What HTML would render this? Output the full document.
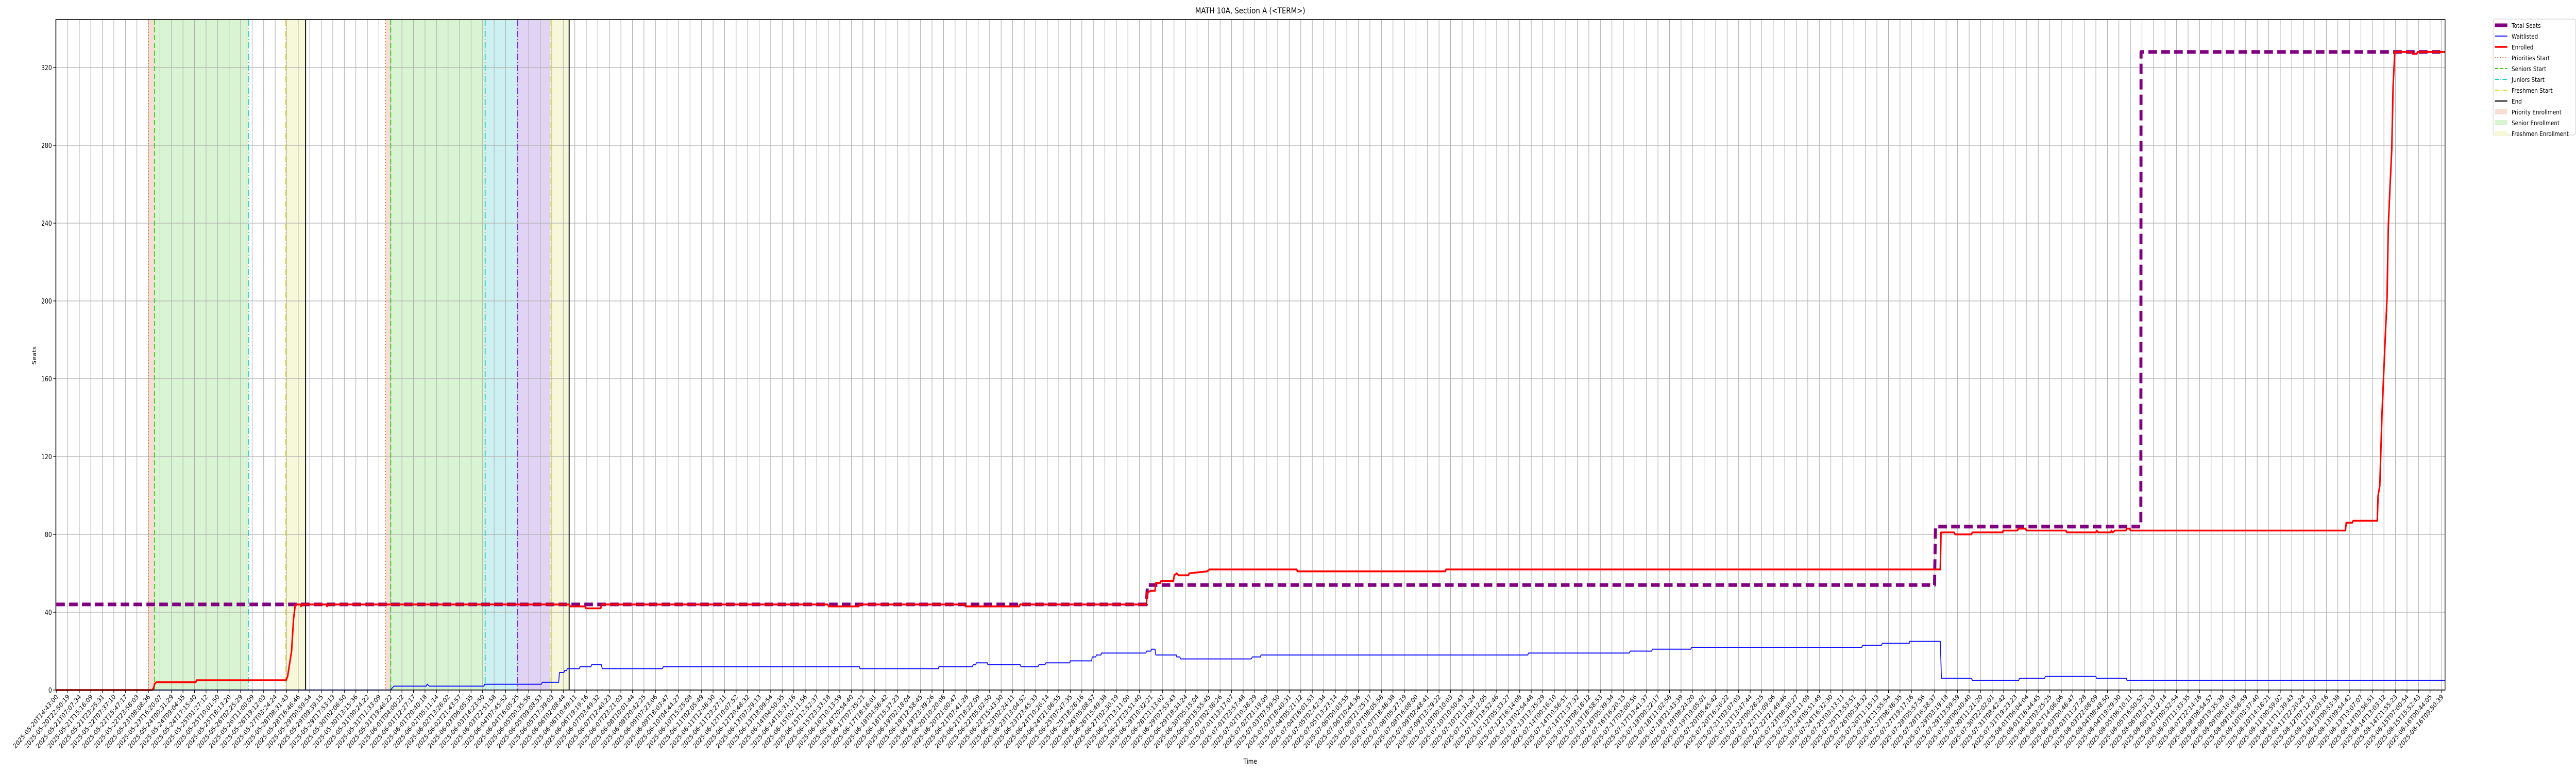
<!DOCTYPE html>
<html><head><meta charset="utf-8"><style>
html,body{margin:0;padding:0;background:#fff;overflow:hidden;}
svg{display:block;width:100vw;height:100vh;font-family:"DejaVu Sans","Liberation Sans",sans-serif;overflow:hidden;}
</style></head><body>
<svg id="chart" xmlns="http://www.w3.org/2000/svg" viewBox="0 0 6000 1500" preserveAspectRatio="none">
<rect x="0" y="0" width="6000" height="1500" fill="#fff"/>
<g id="bands"></g>
<g id="grid"></g>
<g id="vlines"></g>
<g id="series"></g>
<rect x="130" y="38" width="5565" height="1301" fill="none" stroke="#000" stroke-width="1.6"/>
<g id="axes"></g>
<text x="2912" y="26" font-size="16" text-anchor="middle">MATH 10A, Section A (&lt;TERM&gt;)</text>
<text x="2912" y="1482" font-size="13" text-anchor="middle">Time</text>
<text transform="translate(84,690) rotate(-90)" font-size="13" text-anchor="middle">Seats</text>
<g id="legend"></g>
</svg>
<script>
// ---- data ----
const totalX = [0, 94.60, 94.70, 163.00, 163.08, 180.90, 180.92, 207.3];
const totalY = [44, 44, 54, 54, 84, 84, 328, 328];

const waitX = [0,29.0,29.3,32.1,32.19,32.38,37.1,37.18,42.1,42.18,43.6,43.67,44.05,44.11,44.3,44.34,45.4,45.45,46.4,46.46,47.3,47.39,52.6,52.68,69.7,69.75,76.55,76.6,79.5,79.58,79.8,79.84,80.8,80.85,83.65,83.72,85.2,85.28,85.8,85.88,87.95,88.0,89.85,89.9,90.2,90.28,90.65,90.72,94.55,94.63,95.0,95.04,95.35,95.42,97.2,97.24,97.5,97.58,103.7,103.8,104.5,104.55,127.7,127.76,136.5,136.59,138.45,138.52,141.85,141.92,156.7,156.74,158.4,158.46,160.8,160.84,163.5,163.6,166.2,166.28,170.3,170.38,172.55,172.62,177.0,177.05,179.65,179.7,207.3];
const waitY = [0,0,2,2,3,2,2,3,3,4,4,9,9,10,10,11,11,12,12,13,13,11,11,12,12,11,11,12,12,13,13,14,14,13,13,12,12,13,13,14,14,15,15,17,17,18,18,19,19,20,20,21,21,18,18,17,17,16,16,17,17,18,18,19,19,20,20,21,21,22,22,23,23,24,24,25,25,6,6,5,5,6,6,7,7,6,6,5,5];

const enrX = [0,8.33,8.45,8.53,8.68,12.1,12.18,19.93,20.08,20.42,20.60,20.75,21.2,21.24,21.39,23.44,23.5,23.62,44.5,44.6,45.9,45.98,47.25,47.32,66.95,67.03,69.65,69.71,78.85,78.91,83.58,83.64,94.60,94.67,94.97,95.35,95.42,95.8,95.87,96.95,97.02,97.24,97.39,98.25,98.32,99.89,100.07,107.65,107.71,120.55,120.60,163.50,163.56,164.7,164.79,166.2,166.28,168.9,168.96,170.2,170.27,170.9,170.97,174.4,174.48,177.0,177.08,177.2,178.3,178.35,178.45,178.65,179.6,179.70,179.95,180.0,198.65,198.73,199.25,199.33,201.42,201.49,201.64,201.83,202.09,202.27,202.38,202.53,202.68,202.79,202.94,204.43,204.5,204.85,204.92,207.3];
const enrY = [0,0,1,3,4,4,5,5,7,20,37,44,44,43,44,44,43,44,44,43,43,42,42,44,44,43,43,44,44,43,43,44,44,50,51,51,55,55,56,56,59,60,59,59,60,61,62,62,61,61,62,62,81,81,80,80,81,81,82,82,83,83,82,82,81,81,82,81,81,82,81,82,82,83,83,82,82,86,86,87,87,100,105,142,178,202,239,259,278,310,328,328,327,327,328,328];

const markerNames = ["priorities-start-1","seniors-start-1","juniors-start-1","freshmen-start-1","end-1","priorities-start-2","seniors-start-2","juniors-start-2","sophomores-start-2","freshmen-start-2","end-2"];
const markerPos = [8.00, 8.52, 16.67, 19.91, 21.64, 28.57, 29.03, 37.22, 40.04, 42.86, 44.51];
const markerKind = ["pri","sen","jun","fre","end","pri","sen","jun","sop","fre","end"];
const bandStart = [8.00, 8.52, 19.91, 28.57, 29.03, 37.22, 40.04, 42.86];
const bandEnd   = [8.52, 16.67, 21.64, 29.03, 37.22, 40.04, 42.86, 44.51];
const bandKind  = ["pri","sen","fre","pri","sen","jun","sop","fre"];

const yTicks = [0,40,80,120,160,200,240,280,320];
const tickCount = 208;
const knownTickIdx = [0,1,2,3,4,5,6,7,8,9,10,11,12,13,14,15,16,17,18,19,20,21,22,23,24,25,28,29,30,31,32,33,34,35,36,37,38,39,40,41,42,43,44,45,46,47,48,195,196,197,198,199,200,201,202,203,204,205,206,207];
const knownTickLabels = ["2025-05-20T14:43:00","2025-05-20T22:50:19","2025-05-21T07:07:34","2025-05-21T15:16:09","2025-05-21T23:25:31","2025-05-22T07:37:10","2025-05-22T15:47:17","2025-05-22T23:58:03","2025-05-23T08:08:36","2025-05-23T16:20:07","2025-05-24T00:31:29","2025-05-24T09:04:35","2025-05-24T17:15:40","2025-05-25T01:27:12","2025-05-25T10:01:50","2025-05-25T18:13:20","2025-05-26T02:25:29","2025-05-26T11:00:09","2025-05-26T19:12:03","2025-05-27T03:24:24","2025-05-28T08:31:43","2025-05-28T16:46:46","2025-05-29T00:59:54","2025-05-29T09:39:15","2025-05-29T17:53:13","2025-05-30T02:06:50","2025-05-31T11:33:09","2025-05-31T19:46:22","2025-06-01T04:00:22","2025-06-01T12:27:17","2025-06-01T20:40:18","2025-06-02T05:11:14","2025-06-02T13:26:02","2025-06-02T21:43:57","2025-06-03T06:05:35","2025-06-03T14:23:50","2025-06-03T22:51:58","2025-06-04T07:45:52","2025-06-04T16:05:25","2025-06-05T00:35:56","2025-06-05T09:08:53","2025-06-05T17:39:03","2025-06-06T02:08:44","2025-06-06T10:49:11","2025-06-06T19:19:16","2025-06-07T03:49:32","2025-06-07T12:40:23","2025-08-11T22:20:24","2025-08-12T07:12:10","2025-08-12T16:03:16","2025-08-13T00:53:38","2025-08-13T09:54:42","2025-08-13T19:07:07","2025-08-14T03:56:51","2025-08-14T13:03:12","2025-08-14T21:55:23","2025-08-15T07:00:54","2025-08-15T15:52:43","2025-08-16T00:44:05","2025-08-16T09:50:39"];

// ---- scales ----
const PL=130, PR=5695, PT=38, PB=1339;
const X0=131, XSTEP=26.84, YPER=3.775;
function xs(i){ return X0 + i*XSTEP; }
function ys(v){ return PB - v*YPER; }

const NS="http://www.w3.org/2000/svg";
function mk(tag, attrs, parent){
  const e=document.createElementNS(NS,tag);
  for(const k in attrs) e.setAttribute(k, attrs[k]);
  parent.appendChild(e); return e;
}
const styles = {
  pri:{c:"#f07030",fill:"#f5dfd5",dash:"2,4"},
  sen:{c:"#33cc11",fill:"#d9f4d3",dash:"10,5"},
  jun:{c:"#11cccc",fill:"#cdf0f2",dash:"12,4,2,4"},
  sop:{c:"#7a2be0",fill:"#e0d3f4",dash:"12,4,2,4"},
  fre:{c:"#dddd22",fill:"#f7f8d9",dash:"12,4,2,4"},
  end:{c:"#000000",fill:"none",dash:""}
};

const gB=document.getElementById('bands');
for(let k=0;k<bandStart.length;k++){
  const r=mk('rect',{x:xs(bandStart[k]),y:PT,width:xs(bandEnd[k])-xs(bandStart[k]),height:PB-PT,fill:styles[bandKind[k]].fill},gB);
  
  
}
const gG=document.getElementById('grid');
for(let i=0;i<tickCount;i++){
  const l=mk('line',{x1:xs(i),x2:xs(i),y1:PT,y2:PB,stroke:"#b0b0b0","stroke-width":1.3},gG);
  
  
}
for(const v of yTicks){
  const l=mk('line',{x1:PL,x2:PR,y1:ys(v),y2:ys(v),stroke:"#b0b0b0","stroke-width":1.3},gG);
  
  
}
const gV=document.getElementById('vlines');
for(let k=0;k<markerPos.length;k++){
  const s=styles[markerKind[k]];
  const a={x1:xs(markerPos[k]),x2:xs(markerPos[k]),y1:PT,y2:PB,stroke:s.c,"stroke-width":markerKind[k]==="end"?2.2:2};
  if(s.dash) a["stroke-dasharray"]=s.dash;
  const l=mk('line',a,gV);
  
  
}
const gS=document.getElementById('series');
function pts(X,Y){ return X.map((x,i)=>xs(x).toFixed(1)+','+ys(Y[i]).toFixed(1)).join(' '); }
const pTotal=mk('polyline',{points:pts(totalX,totalY),fill:"none",stroke:"#800080","stroke-width":7,"stroke-dasharray":"20,10","stroke-linejoin":"round"},gS);


const pWait=mk('polyline',{points:pts(waitX,waitY),fill:"none",stroke:"#1515ff","stroke-width":2,"stroke-linejoin":"round"},gS);


const pEnr=mk('polyline',{points:pts(enrX,enrY),fill:"none",stroke:"#ff0000","stroke-width":3.6,"stroke-linejoin":"round"},gS);



function pad(n){return (n<10?'0':'')+n;}
function parseT(s){ return Date.UTC(+s.slice(0,4),+s.slice(5,7)-1,+s.slice(8,10),+s.slice(11,13),+s.slice(14,16),+s.slice(17,19)); }
function fmt(t){ const d=new Date(t); return d.getUTCFullYear()+'-'+pad(d.getUTCMonth()+1)+'-'+pad(d.getUTCDate())+'T'+pad(d.getUTCHours())+':'+pad(d.getUTCMinutes())+':'+pad(d.getUTCSeconds()); }
const labels=[];
for(let i=0;i<tickCount;i++){
  const j=knownTickIdx.indexOf(i);
  if(j>=0){labels.push(knownTickLabels[j]);continue;}
  let a=0,b=knownTickIdx.length-1;
  for(let k=0;k<knownTickIdx.length;k++){ if(knownTickIdx[k]<i) a=k; }
  for(let k=knownTickIdx.length-1;k>=0;k--){ if(knownTickIdx[k]>i) b=k; }
  const ta=parseT(knownTickLabels[a]), tb=parseT(knownTickLabels[b]);
  const f=(i-knownTickIdx[a])/(knownTickIdx[b]-knownTickIdx[a]);
  labels.push(fmt(ta+(tb-ta)*f));
}
const gA=document.getElementById('axes');
for(let i=0;i<tickCount;i++){
  const x=xs(i);
  const t=mk('line',{x1:x,x2:x,y1:PB,y2:PB+6,stroke:"#000","stroke-width":1.3},gA);
  
  
  const tx=mk('text',{transform:`translate(${x+5},${PB+14}) rotate(-45)`,"font-size":13,"text-anchor":"end"},gA);
  tx.textContent=labels[i];
  
  
}
for(const v of yTicks){
  const t=mk('line',{x1:PL-6,x2:PL,y1:ys(v),y2:ys(v),stroke:"#000","stroke-width":1.3},gA);
  
  
  const tx=mk('text',{x:PL-9,y:ys(v)+5,"font-size":13,"text-anchor":"end"},gA);
  tx.textContent=String(v);
  
  
}

const legendLabels=["Total Seats","Waitlisted","Enrolled","Priorities Start","Seniors Start","Juniors Start","Freshmen Start","End","Priority Enrollment","Senior Enrollment","Freshmen Enrollment"];
const gL=document.getElementById('legend');
const box=mk('rect',{x:5807,y:37,width:192,height:225,rx:3,fill:"#fff","fill-opacity":0.85,stroke:"#d0d0d0","stroke-width":1.2},gL);


const hStyles=[
  {t:"line",c:"#800080",w:7,d:""},{t:"line",c:"#1515ff",w:2,d:""},{t:"line",c:"#ff0000",w:3.6,d:""},
  {t:"line",c:"#f07030",w:2,d:"2,4"},{t:"line",c:"#33cc11",w:2,d:"8,4"},{t:"line",c:"#11cccc",w:2,d:"10,3,2,3"},
  {t:"line",c:"#dddd22",w:2,d:"10,3,2,3"},{t:"line",c:"#000",w:2.2,d:""},
  {t:"rect",c:"#f5dfd5"},{t:"rect",c:"#d9f4d3"},{t:"rect",c:"#f7f8d9"}];
for(let k=0;k<legendLabels.length;k++){
  const cy=49+k*21;
  const hs=hStyles[k];
  let h;
  if(hs.t==="line"){
    const a={x1:5811,x2:5840,y1:cy,y2:cy,stroke:hs.c,"stroke-width":hs.w};
    if(hs.d) a["stroke-dasharray"]=hs.d;
    h=mk('line',a,gL);
  } else {
    h=mk('rect',{x:5811,y:cy-5,width:29,height:10,fill:hs.c},gL);
  }
  
  
  const tx=mk('text',{x:5850,y:cy+5,"font-size":12.5},gL);
  tx.textContent=legendLabels[k];
  
  
}
</script>
</body></html>
